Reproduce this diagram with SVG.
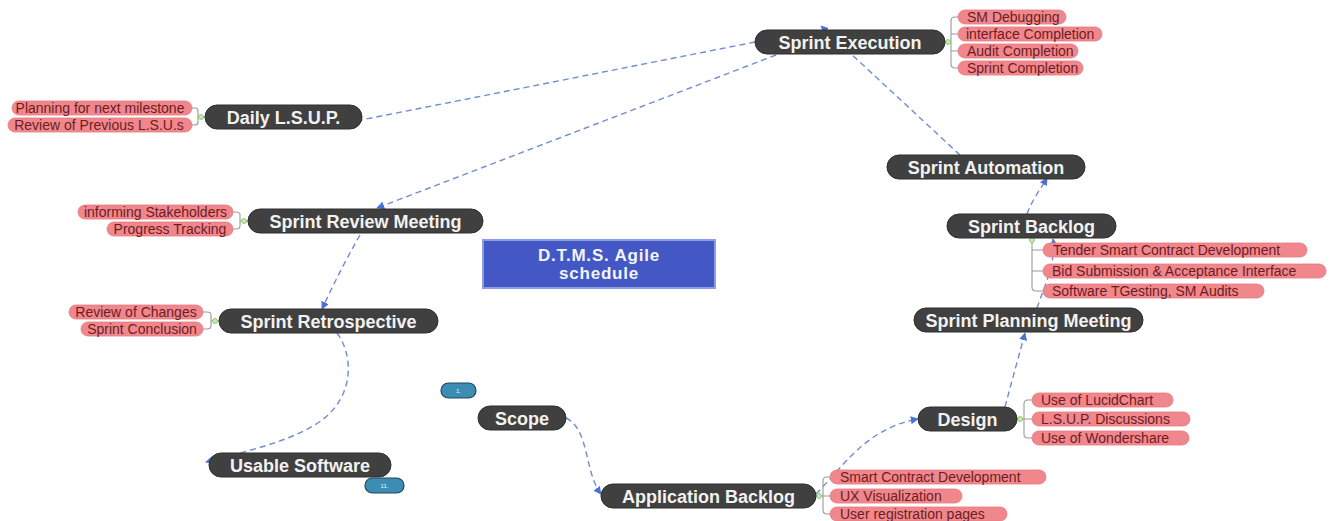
<svg xmlns="http://www.w3.org/2000/svg" width="1335" height="521" viewBox="0 0 1335 521">
<style>
.major rect{fill:#404040;stroke:#2e2e2e;stroke-width:1}
.major text{font-family:"Liberation Sans",Arial,sans-serif;font-weight:bold;font-size:18px;fill:#f2f2f2;text-anchor:middle}
.leaf rect{fill:#f0878d;stroke:#e57980;stroke-width:0.8}
.leaf text{font-family:"Liberation Sans",Arial,sans-serif;font-size:14px;fill:#6e1c22;text-anchor:middle}
.leaf text.l{text-anchor:start}
.br{fill:none;stroke:#9a9a9a;stroke-width:1.1}
.dot{fill:#c8eab0;stroke:#7fc466;stroke-width:0.8}
.conn path{fill:none;stroke:#6f8cd6;stroke-width:1.4;stroke-dasharray:6 4}
.conn path.a{marker-end:url(#arr)}
.badge rect{fill:#3b8db5;stroke:#23465a;stroke-width:1.2}
.badge text{font-family:"Liberation Sans",Arial,sans-serif;font-size:6px;fill:#eaf4fa;text-anchor:middle}
.title{font-family:"Liberation Sans",Arial,sans-serif;font-weight:bold;font-size:17px;letter-spacing:0.8px;fill:#f4f4f4;text-anchor:middle}
</style>
<defs>
<marker id="arr" viewBox="0 0 10 10" refX="9" refY="5" markerWidth="8" markerHeight="8" markerUnits="userSpaceOnUse" orient="auto">
<path d="M0,0 L10,5 L0,10 z" fill="#4d70d8"/>
</marker>
</defs>
<rect width="1335" height="521" fill="#ffffff"/>

<g id="connectors" class="conn">
<path d="M755 42 L361 120"/>
<path class="a" d="M776 55 L377 208"/>
<path class="a" d="M360 235 Q340 270 322 309"/>
<path class="a" d="M337 333 C354 356 354 396 322 420 C292 442 242 452 206 462"/>
<path class="a" d="M566 418 C590 430 584 472 601 494"/>
<path class="a" d="M816 494 C842 468 866 428 918 419"/>
<path class="a" d="M1005 407 C1012 380 1020 352 1025 333"/>
<path class="a" d="M1037 308 C1045 285 1056 262 1053 239"/>
<path class="a" d="M1027 214 C1032 200 1040 190 1047 178"/>
<path class="a" d="M960 155 L821 26"/>
</g>

<g id="brackets">
<path class="br" d="M945 42 H951 M958 17 H955 Q951 17 951 21 V64 Q951 68 955 68 H958 M951 34 H958 M951 51 H958"/>
<circle class="dot" cx="948" cy="42" r="2.5"/>
<path class="br" d="M205 117 H198 M192 108 H195 Q198 108 198 111 V122 Q198 125 195 125 H192"/>
<circle class="dot" cx="201" cy="117" r="2.5"/>
<path class="br" d="M248 221 H240 M233 212 H236 Q240 212 240 215 V226 Q240 229 236 229 H233"/>
<circle class="dot" cx="244" cy="221" r="2.5"/>
<path class="br" d="M219 321 H211 M203 312 H207 Q211 312 211 315 V326 Q211 329 207 329 H203"/>
<circle class="dot" cx="215" cy="321" r="2.5"/>
<path class="br" d="M1032 238 V287 Q1032 291 1036 291 H1043 M1032 250 H1043 M1032 271 H1043"/>
<circle class="dot" cx="1032" cy="240" r="2.5"/>
<path class="br" d="M1017 419 H1024 M1032 400 H1028 Q1024 400 1024 404 V434 Q1024 438 1028 438 H1032 M1024 419 H1032"/>
<circle class="dot" cx="1020" cy="419" r="2.5"/>
<path class="br" d="M816 496 H823 M830 477 H827 Q823 477 823 481 V510 Q823 514 827 514 H830 M823 496 H830"/>
<circle class="dot" cx="819" cy="496" r="2.5"/>
</g>

<g id="n-sprint-execution" class="major"><rect x="755" y="30" width="190" height="24" rx="12"/><text x="850" y="48.5">Sprint Execution</text></g>
<g id="n-daily-lsup" class="major"><rect x="205" y="105" width="157" height="24" rx="12"/><text x="283.5" y="123.5">Daily L.S.U.P.</text></g>
<g id="n-sprint-review" class="major"><rect x="248" y="209" width="235" height="24" rx="12"/><text x="365.5" y="227.5">Sprint Review Meeting</text></g>
<g id="n-sprint-retro" class="major"><rect x="219" y="309" width="219" height="24" rx="12"/><text x="328.5" y="327.5">Sprint Retrospective</text></g>
<g id="n-usable-software" class="major"><rect x="209" y="453" width="182" height="24" rx="12"/><text x="300" y="471.5">Usable Software</text></g>
<g id="n-scope" class="major"><rect x="478" y="406" width="88" height="24" rx="12"/><text x="522" y="424.5">Scope</text></g>
<g id="n-app-backlog" class="major"><rect x="601" y="484" width="215" height="24" rx="12"/><text x="708.5" y="502.5">Application Backlog</text></g>
<g id="n-design" class="major"><rect x="918" y="407" width="99" height="24" rx="12"/><text x="967.5" y="425.5">Design</text></g>
<g id="n-sprint-planning" class="major"><rect x="914" y="308" width="229" height="24" rx="12"/><text x="1028.5" y="326.5">Sprint Planning Meeting</text></g>
<g id="n-sprint-backlog" class="major"><rect x="947" y="214" width="169" height="24" rx="12"/><text x="1031.5" y="232.5">Sprint Backlog</text></g>
<g id="n-sprint-automation" class="major"><rect x="887" y="155" width="198" height="24" rx="12"/><text x="986" y="173.5">Sprint Automation</text></g>

<g id="n-center">
<rect x="483" y="240" width="232" height="48" fill="#4358c4" stroke="#8d9de3" stroke-width="2"/>
<text class="title" x="599" y="261">D.T.M.S. Agile</text>
<text class="title" x="599" y="279">schedule</text>
</g>

<g id="l-sm-debugging" class="leaf"><rect x="958" y="10" width="108" height="14" rx="7"/><text class="l" x="967" y="22">SM Debugging</text></g>
<g id="l-interface-completion" class="leaf"><rect x="958" y="27" width="144" height="14" rx="7"/><text class="l" x="966" y="39">interface Completion</text></g>
<g id="l-audit-completion" class="leaf"><rect x="958" y="44" width="120" height="14" rx="7"/><text class="l" x="967" y="56">Audit Completion</text></g>
<g id="l-sprint-completion" class="leaf"><rect x="958" y="61" width="125" height="14" rx="7"/><text class="l" x="967" y="73">Sprint Completion</text></g>

<g id="l-planning-next" class="leaf"><rect x="12" y="101" width="180" height="14" rx="7"/><text x="100" y="113">Planning for next milestone</text></g>
<g id="l-review-prev" class="leaf"><rect x="8" y="118" width="184" height="14" rx="7"/><text x="99" y="130">Review of Previous L.S.U.s</text></g>

<g id="l-informing" class="leaf"><rect x="78" y="205" width="155" height="14" rx="7"/><text x="155.5" y="217">informing Stakeholders</text></g>
<g id="l-progress" class="leaf"><rect x="107" y="222" width="126" height="14" rx="7"/><text x="170" y="234">Progress Tracking</text></g>

<g id="l-review-changes" class="leaf"><rect x="69" y="305" width="134" height="14" rx="7"/><text x="136" y="317">Review of Changes</text></g>
<g id="l-sprint-conclusion" class="leaf"><rect x="81" y="322" width="122" height="14" rx="7"/><text x="142" y="334">Sprint Conclusion</text></g>

<g id="l-tender" class="leaf"><rect x="1043" y="243" width="264" height="14" rx="7"/><text class="l" x="1053" y="255">Tender Smart Contract Development</text></g>
<g id="l-bid" class="leaf"><rect x="1043" y="264" width="283" height="14" rx="7"/><text class="l" x="1052" y="276">Bid Submission &amp; Acceptance Interface</text></g>
<g id="l-software-testing" class="leaf"><rect x="1043" y="284" width="221" height="14" rx="7"/><text class="l" x="1052" y="296">Software TGesting, SM Audits</text></g>

<g id="l-lucidchart" class="leaf"><rect x="1032" y="393" width="141" height="14" rx="7"/><text class="l" x="1041" y="405">Use of LucidChart</text></g>
<g id="l-lsup-disc" class="leaf"><rect x="1032" y="412" width="158" height="14" rx="7"/><text class="l" x="1041" y="424">L.S.U.P. Discussions</text></g>
<g id="l-wondershare" class="leaf"><rect x="1032" y="431" width="157" height="14" rx="7"/><text class="l" x="1041" y="443">Use of Wondershare</text></g>

<g id="l-smart-contract" class="leaf"><rect x="830" y="470" width="216" height="14" rx="7"/><text class="l" x="840" y="482">Smart Contract Development</text></g>
<g id="l-ux" class="leaf"><rect x="830" y="489" width="132" height="14" rx="7"/><text class="l" x="840" y="501">UX Visualization</text></g>
<g id="l-user-reg" class="leaf"><rect x="830" y="507" width="177" height="14" rx="7"/><text class="l" x="840" y="519">User registration pages</text></g>

<g id="b-1" class="badge"><rect x="441" y="383" width="35" height="15" rx="7.5"/><text x="458.5" y="392.5">1.</text></g>
<g id="b-11" class="badge"><rect x="365" y="478" width="39" height="15" rx="7.5"/><text x="384.5" y="487.5">11.</text></g>
</svg>
